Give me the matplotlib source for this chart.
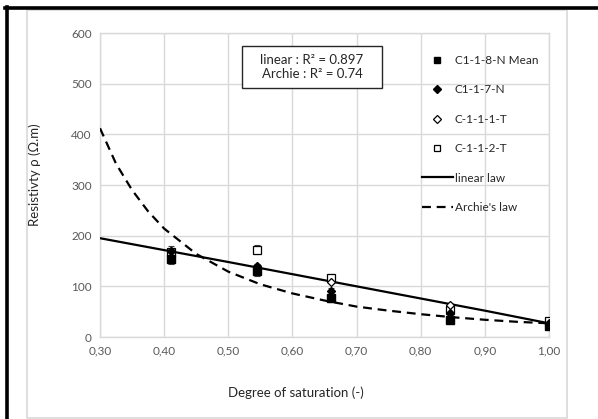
import numpy as np
import matplotlib
matplotlib.use('Agg')
import matplotlib.pyplot as plt
from matplotlib.lines import Line2D
from matplotlib.patches import Rectangle
from matplotlib.ticker import FuncFormatter

#------------------------------------------------------------------------
# D A T A
#------------------------------------------------------------------------
saturation = [0.41, 0.545, 0.66, 0.845, 1.00]

rho_mean   = [154, 131, 77, 33, 22]     # C1-1-8-N Mean
err_mean   = [9, 10, 7, 5, 3]
rho_c117   = [170, 140, 90, 48, 25]     # C1-1-7-N
err_c117   = [9, 5, 6, 4, 2]
rho_c1111  = [169, 135, 109, 63, 27]    # C-1-1-1-T
rho_c1112  = [167, 172, 116, 54, 31]    # C-1-1-2-T
err_c1112  = [6, 9, 9, 6, 2]

lin_S      = [0.30, 0.50, 0.70, 0.90, 1.00]
lin_rho    = [195, 148, 100, 52, 27]

archie_S   = [0.30, 0.325, 0.35, 0.375, 0.40, 0.45, 0.50, 0.55, 0.60,
              0.65, 0.70, 0.75, 0.80, 0.85, 0.90, 0.95, 1.00]
archie_rho = [412, 342, 290, 248, 214, 164, 129, 104, 86,
              72, 60, 52, 45, 39, 34, 30, 27]

xticks = [0.30, 0.40, 0.50, 0.60, 0.70, 0.80, 0.90, 1.00]
yticks = [0, 100, 200, 300, 400, 500, 600]

GRID = '#d9d9d9'
TXT = '#595959'
DARK = '#262626'

plt.rcParams['font.family'] = ['Lato', 'DejaVu Sans']

fig = plt.figure(figsize=(5.98, 4.19), dpi=100)
W, H = 598., 419.
ax = fig.add_axes([100/W, 1-337/H, (549-100)/W, (337-33)/H])

# ----- frame lines of the picture
fig.add_artist(Line2D([6.5/W, 6.5/W], [0, 1-7/H], color='black', lw=2.6, transform=fig.transFigure))
fig.add_artist(Line2D([5/W, 1], [1-8.5/H, 1-8.5/H], color='black', lw=2.6, transform=fig.transFigure))
fig.add_artist(Rectangle((27/W, 1-418/H), (567-27)/W, (418-10)/H, fill=False,
                         ec=GRID, lw=1.2, transform=fig.transFigure))

# ----- curves
ax.plot(lin_S, lin_rho, color='black', lw=1.6, zorder=3)
ax.plot(archie_S, archie_rho, color='black', lw=1.6, ls=(0, (4, 2.6)), zorder=3)

# ----- data points (error bars first, markers on top)
ebar = dict(fmt='none', ecolor='#404040', elinewidth=0.8, capsize=2.5, capthick=0.8, zorder=4)
ax.errorbar(saturation, rho_c1112, yerr=err_c1112, **ebar)
ax.errorbar(saturation, rho_c117, yerr=err_c117, **ebar)
ax.errorbar(saturation, rho_mean, yerr=err_mean, **ebar)
ax.plot(saturation, rho_c1112, 's', ms=6, mfc='white', mec='black', mew=0.9, zorder=5)
ax.plot(saturation, rho_c1111, 'D', ms=4.5, mfc='white', mec='black', mew=0.9, zorder=5)
ax.plot(saturation, rho_c117, 'D', ms=4.5, mfc='black', mec='black', zorder=5)
ax.plot(saturation, rho_mean, 's', ms=6, mfc='black', mec='black', zorder=5)

ax.set_xlim(0.30, 1.00)
ax.set_ylim(0, 600)
ax.set_xticks(xticks)
ax.set_yticks(yticks)
ax.xaxis.set_major_formatter(FuncFormatter(lambda v, p: ('%.2f' % v).replace('.', ',')))
ax.tick_params(length=0, labelsize=8.5, labelcolor=TXT, pad=6)
ax.grid(True, color=GRID, lw=1)
ax.set_axisbelow(True)
for s in ax.spines.values():
    s.set_color(GRID)
    s.set_linewidth(1)

ax.set_xlabel('Degree of saturation (-)', fontsize=9.5, color=DARK)
ax.set_ylabel('Resistivty ρ (Ω.m)', fontsize=9.5, color=DARK)
ax.xaxis.set_label_coords((296-100)/449., -(386-337)/304., transform=ax.transAxes)
ax.yaxis.set_label_coords(-(100-41)/449., (337-175)/304., transform=ax.transAxes)

# ----- legend (small markers, no error bars)
handles = [
    Line2D([], [], ls='none', marker='s', ms=4.5, mfc='black', mec='black'),
    Line2D([], [], ls='none', marker='D', ms=3.8, mfc='black', mec='black'),
    Line2D([], [], ls='none', marker='D', ms=3.8, mfc='white', mec='black', mew=0.9),
    Line2D([], [], ls='none', marker='s', ms=5, mfc='white', mec='black', mew=0.9),
    Line2D([], [], color='black', lw=1.6),
    Line2D([], [], color='black', lw=1.6, ls=(0, (4, 2.6))),
]
labels = ['C1-1-8-N Mean', 'C1-1-7-N', 'C-1-1-1-T', 'C-1-1-2-T', 'linear law', "Archie's law"]
leg = ax.legend(handles, labels, loc='upper left', bbox_to_anchor=(416/W, 1-49/H),
                bbox_transform=fig.transFigure, frameon=False, fontsize=8.5, labelspacing=1.56,
                handlelength=2.6, handletextpad=0.2, borderpad=0)
for t in leg.get_texts():
    t.set_color(DARK)

# ----- R^2 box
fig.add_artist(Rectangle((242/W, 1-88/H), (382-242)/W, (88-46)/H, fill=True, fc='white',
                         ec=DARK, lw=1, transform=fig.transFigure))
fig.text(312/W, 1-67/H, 'linear : R² = 0.897\nArchie : R² = 0.74', ha='center', va='center',
         fontsize=9.5, color=DARK, linespacing=1.1)

fig.savefig('out.png', dpi=100)
